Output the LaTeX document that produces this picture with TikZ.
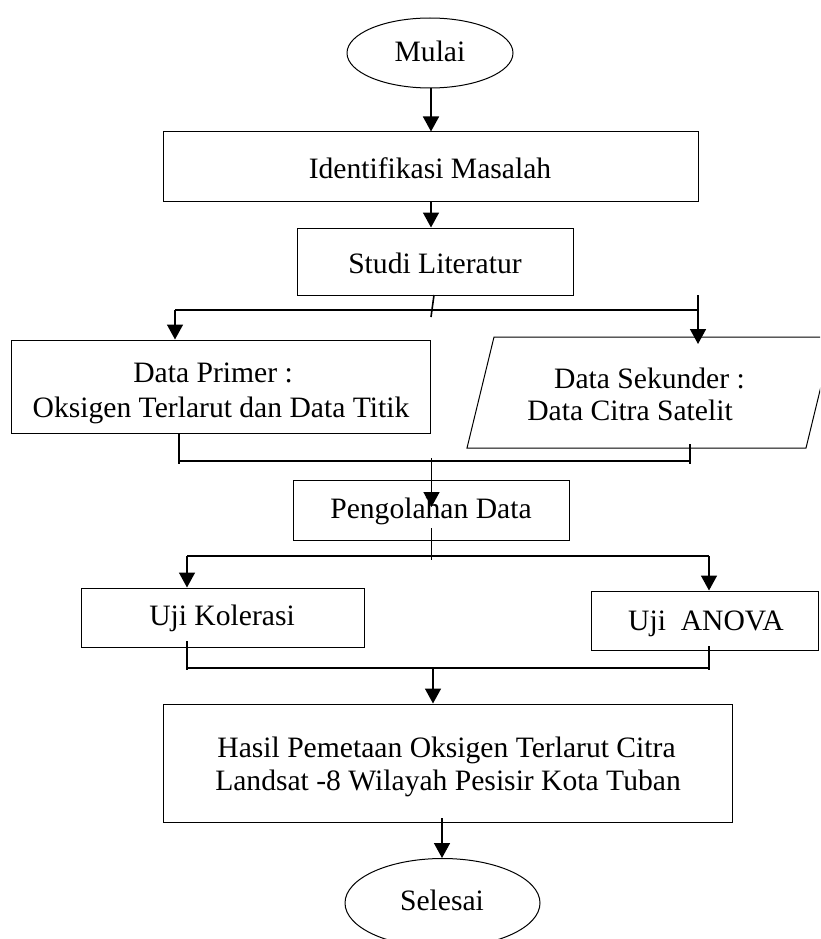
\documentclass[tikz,border=0pt]{standalone}
\usepackage{fontspec}
\setmainfont{Liberation Serif}
\usetikzlibrary{arrows.meta,shapes.geometric}
\begin{document}
\begin{tikzpicture}[x=1pt,y=-1pt,
  lbl/.style={font=\fontsize{29.6}{33}\selectfont, inner sep=0pt, anchor=base},
  box/.style={draw, line width=1pt, inner sep=0pt},
  oval/.style={box, ellipse},
  conn/.style={line width=1.6pt},
  arr/.style={conn, -{Triangle[length=15pt,width=16pt]}}]
\useasboundingbox (0,0) rectangle (820,939);
\clip (0,0) rectangle (820,939);
\fill[white] (0,0) rectangle (820,939);

% shapes
\node[oval, minimum width=166pt, minimum height=70pt] (mulai) at (430,53) {};
\node[box, minimum width=535pt, minimum height=69pt] (ident) at (430.5,166.5) {};
\node[box, minimum width=276pt, minimum height=67pt] (studi) at (435,261.5) {};
\node[box, minimum width=418.5pt, minimum height=93pt] (primer) at (221,386.5) {};
\coordinate (p1) at (467,448);
\coordinate (p2) at (494,337);
\coordinate (p3) at (833,337);
\coordinate (p4) at (806,448);
\draw[line width=1pt] (p1) -- (p2) -- (p3) -- (p4) -- cycle;
\node[box, minimum width=276pt, minimum height=60pt] (olah) at (431,510.7) {};
\node[box, minimum width=282.5pt, minimum height=59pt] (kor) at (223,617.5) {};
\node[box, minimum width=226.5pt, minimum height=59pt] (anova) at (705,620.5) {};
\node[box, minimum width=569pt, minimum height=118pt] (hasil) at (447.5,763) {};
\node[oval, minimum width=195pt, minimum height=89pt] (selesai) at (442.5,903) {};

% texts
\node[lbl] (tmulai) at (430,62) {Mulai};
\node[lbl] (tident) at (430,178) {Identifikasi Masalah};
\node[lbl] (tstudi) at (435,273) {Studi Literatur};
\node[lbl] (tprimA) at (213,382) {Data Primer :};
\node[lbl] (tprimB) at (221,417) {Oksigen Terlarut dan Data Titik};
\node[lbl] (tsekA) at (649.5,388) {Data Sekunder :};
\node[lbl] (tsekB) at (630,420) {Data Citra Satelit};
\node[lbl] (tolah) at (431,518.5) {Pengolahan Data};
\node[lbl] (tkor) at (222,625.5) {Uji Kolerasi};
\node[lbl] (tanova) at (706,630) {Uji~~ANOVA};
\node[lbl] (thasA) at (446.5,757) {Hasil Pemetaan Oksigen Terlarut Citra};
\node[lbl] (thasB) at (448,790) {Landsat -8 Wilayah Pesisir Kota Tuban};
\node[lbl] (tsel) at (442,910) {Selesai};

% connectors
\draw[arr] (mulai.south -| 431,0) -- (ident.north -| 431,0);
\draw[arr] (ident.south -| 431,0) -- (studi.north -| 431,0);

\coordinate (s1) at (434,295);
\coordinate (s2) at (431,317);
\draw[conn] (s1) -- (s2);
\coordinate (hL) at (175,310);
\coordinate (hR) at (698,310);
\coordinate (rTop) at (698,295);
\draw[conn] (hL) -- (hR);
\draw[arr] (hL) -- (primer.north -| hL);
\draw[arr] (rTop) -- (698,344);

\coordinate (bL) at (179,461);
\coordinate (bR) at (690,461);
\draw[conn] (primer.south -| bL) -- (179,464);
\draw[conn] (690,444) -- (690,464);
\draw[conn] (bL) -- (bR);
\draw[arr] (431.5,458) -- (431.5,507);

\coordinate (cL) at (187,556);
\coordinate (cR) at (709,556);
\draw[conn] (431.5,528) -- (431.5,560);
\draw[conn] (cL) -- (cR);
\draw[arr] (cL) -- (kor.north -| cL);
\draw[arr] (cR) -- (anova.north -| cR);

\coordinate (dL) at (187,668);
\coordinate (dR) at (709,668);
\draw[conn] (187,641) -- (187,670);
\draw[conn] (709,646) -- (709,670);
\draw[conn] (dL) -- (dR);
\draw[arr] (433,667) -- (hasil.north -| 433,0);

\draw[arr] (442,818) -- (selesai.north -| 442,0);
\end{tikzpicture}
\end{document}
